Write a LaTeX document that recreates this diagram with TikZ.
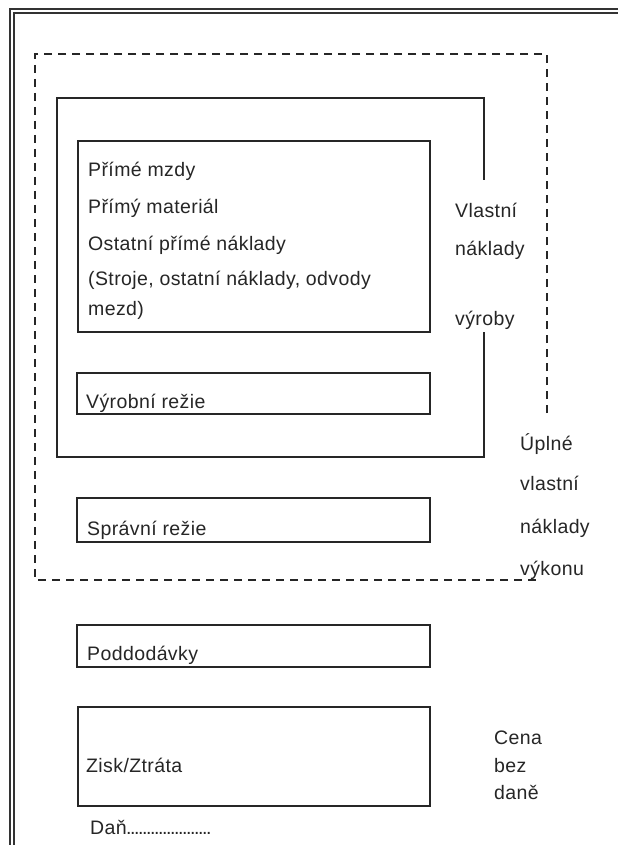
\documentclass[tikz,border=0pt]{standalone}
\usepackage{fontspec}
\setmainfont{Liberation Sans}[LetterSpace=2]
\begin{document}
\begin{tikzpicture}[x=1pt,y=-1pt,
  frame/.style={draw=black!80,line width=1.3pt},
  solidbox/.style={draw=black!85,line width=1.8pt},
  dashbox/.style={draw=black!85,line width=1.8pt,dash pattern=on 8pt off 6pt},
  boxnode/.style={solidbox,anchor=north west,inner sep=0pt,outer sep=0pt},
  lbl/.style={anchor=base west,inner sep=0pt,font=\fontsize{19.5}{22}\selectfont,text=black!85}]
\useasboundingbox (0,0) rectangle (618,845);
\fill[white] (0,0) rectangle (618,845);
% double frame (left and top)
\coordinate (fo1) at (10,845); \coordinate (fo2) at (10,9); \coordinate (fo3) at (618,9);
\coordinate (fi1) at (14,845); \coordinate (fi2) at (14,13); \coordinate (fi3) at (618,13);
\draw[frame] (fo1) -- (fo2) -- (fo3);
\draw[frame] (fi1) -- (fi2) -- (fi3);
% dashed outline: Úplné vlastní náklady výkonu
\coordinate (d1) at (547,413); \coordinate (d2) at (547,54); \coordinate (d3) at (35,54);
\coordinate (d4) at (35,580); \coordinate (d5) at (541,580);
\draw[dashbox] (d1) -- (d2) -- (d3) -- (d4) -- (d5);
% solid outline: Vlastní náklady výroby
\coordinate (s1) at (484,180); \coordinate (s2) at (484,98); \coordinate (s3) at (57,98);
\coordinate (s4) at (57,457); \coordinate (s5) at (484,457); \coordinate (s6) at (484,332);
\draw[solidbox] (s1) -- (s2) -- (s3) -- (s4) -- (s5) -- (s6);
% boxes
\node[boxnode,minimum width=352pt,minimum height=191pt] (box1) at (78,141) {};
\node[boxnode,minimum width=353pt,minimum height=41pt] (box2) at (77,373) {};
\node[boxnode,minimum width=353pt,minimum height=44pt] (box3) at (77,498) {};
\node[boxnode,minimum width=353pt,minimum height=42pt] (box4) at (77,625) {};
\node[boxnode,minimum width=352pt,minimum height=99pt] (box5) at (78,707) {};
% texts in box 1
\node[lbl] (t1) at (88,177) {Přímé mzdy};
\node[lbl] (t2) at (88,213) {Přímý materiál};
\node[lbl] (t3) at (88,250) {Ostatní přímé náklady};
\node[lbl] (t4) at (88,285) {(Stroje, ostatní náklady, odvody};
\node[lbl] (t5) at (88,315) {mezd)};
\node[lbl] (t6) at (86,408) {Výrobní režie};
\node[lbl] (t7) at (87,535) {Správní režie};
\node[lbl] (t8) at (87,660) {Poddodávky};
\node[lbl] (t9) at (86,772) {Zisk/Ztráta};
\node[lbl] (t10) at (90,834) {Daň\makebox[86pt][l]{\leaders\hbox to 4pt{\hss.\hss}\hskip 86pt}};
% right labels
\node[lbl] (r1) at (455,217) {Vlastní};
\node[lbl] (r2) at (455,255) {náklady};
\node[lbl] (r3) at (455,325) {výroby};
\node[lbl] (u1) at (520,450) {Úplné};
\node[lbl] (u2) at (520,490) {vlastní};
\node[lbl] (u3) at (520,533) {náklady};
\node[lbl] (u4) at (520,575) {výkonu};
\node[lbl] (c1) at (494,744) {Cena};
\node[lbl] (c2) at (494,772) {bez};
\node[lbl] (c3) at (494,799) {daně};
\end{tikzpicture}
\end{document}
